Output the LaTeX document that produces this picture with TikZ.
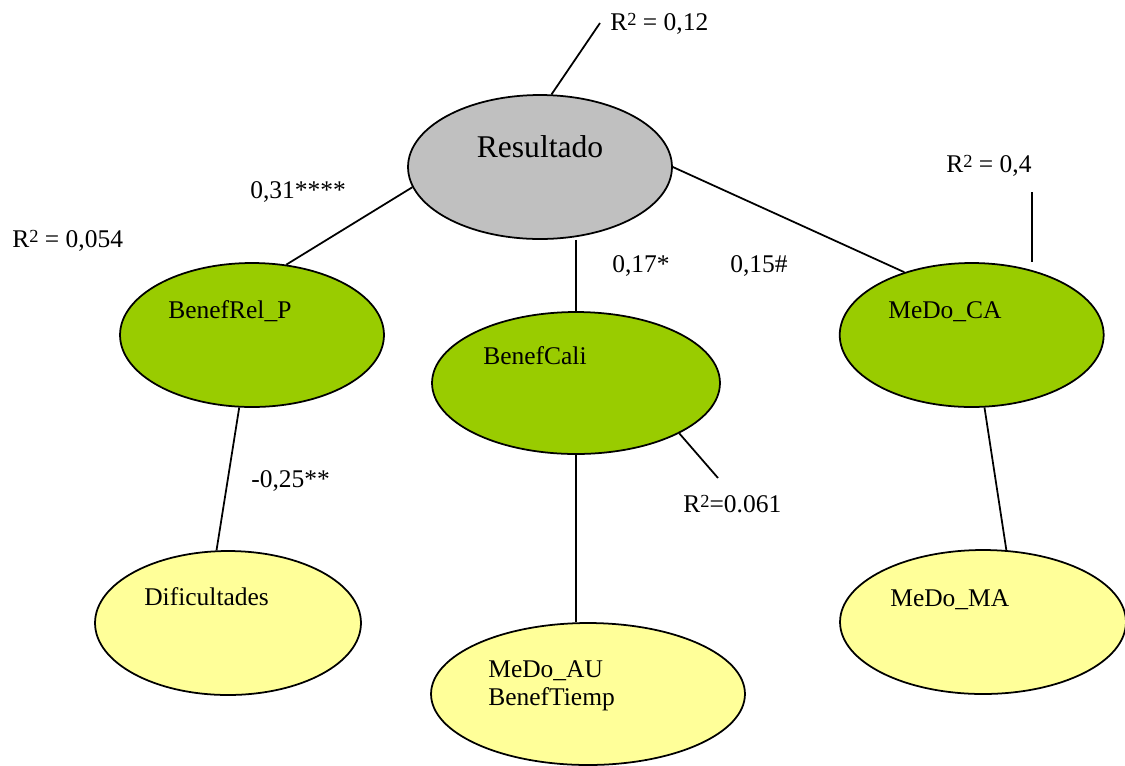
\documentclass[tikz,border=0pt]{standalone}
\usepackage{fontspec}
\setmainfont{Liberation Serif}
\usetikzlibrary{shapes.geometric}
\definecolor{verde}{HTML}{99CC00}
\definecolor{amarillo}{HTML}{FFFF99}
\definecolor{gris}{HTML}{C0C0C0}
\newcommand{\cuad}{\raisebox{0.42ex}{\fontsize{10.5}{10.5}\selectfont 2}}
\tikzset{
  elip/.style={ellipse, draw, line width=1pt, inner sep=0pt},
  txt/.style={inner sep=0pt, anchor=base west, font=\fontsize{14.5}{16.5}\selectfont},
  lin/.style={line width=1pt}
}
\begin{document}
\begin{tikzpicture}[x=0.02cm, y=-0.02cm]
    \useasboundingbox (0,0) rectangle (1125,765);

    % 1. 椭圆
    \node[elip, fill=gris, minimum width=5.28cm, minimum height=2.88cm] (res) at (540,167) {};
    \node[elip, fill=verde, minimum width=5.28cm, minimum height=2.88cm] (bp) at (252,335) {};
    \node[elip, fill=verde, minimum width=5.76cm, minimum height=2.84cm] (bc) at (576,383) {};
    \node[elip, fill=verde, minimum width=5.28cm, minimum height=2.88cm] (ca) at (971.7,335) {};
    \node[elip, fill=amarillo, minimum width=5.32cm, minimum height=2.88cm] (dif) at (228,623) {};
    \node[elip, fill=amarillo, minimum width=6.28cm, minimum height=2.84cm] (au) at (588,694) {};
    \node[elip, fill=amarillo, minimum width=5.72cm, minimum height=2.88cm] (ma) at (983,622) {};

    % 2. 椭圆里的文字
    \node[inner sep=0pt, anchor=base, font=\fontsize{18}{20}\selectfont] (tres) at (540,157) {Resultado};
    \node[txt] (tbp) at (168,318) {BenefRel\_P};
    \node[txt] (tbc) at (483,364) {BenefCali};
    \node[txt] (tca) at (888,318) {MeDo\_CA};
    \node[txt] (tdif) at (144,605) {Dificultades};
    \node[txt] (tau1) at (488,677) {MeDo\_AU};
    \node[txt] (tau2) at (488,705) {BenefTiemp};
    \node[txt] (tma) at (890,606) {MeDo\_MA};

    % 3. 系数与 R^2
    \node[txt] (r1) at (610,30) {R\cuad{} = 0,12};
    \node[txt] (r2) at (12,247) {R\cuad{} = 0,054};
    \node[txt] (r3) at (683,512) {R\cuad{}=0.061};
    \node[txt] (r4) at (946,172) {R\cuad{} = 0,4};
    \node[txt] (c1) at (250,198) {0,31****};
    \node[txt] (c2) at (612,272) {0,17*};
    \node[txt] (c3) at (730,272) {0,15\#};
    \node[txt] (c4) at (251,487) {-0,25**};

    % 4. 连线
    \coordinate (p1) at (600,23);
    \coordinate (p2) at (718,478);
    \coordinate (p3) at (1032,192);
    \draw[lin] (res.81) -- (p1);
    \draw[lin] (res.189) -- (bp.64);
    \draw[lin] (bc.north |- res.south) -- (bc.north);
    \draw[lin] (res.east) -- (ca.137);
    \draw[lin] (p3) -- (p3 |- ca.north);
    \draw[lin] (bp.260) -- (dif.99);
    \draw[lin] (bc.334) -- (p2);
    \draw[lin] (bc.south) -- (bc.south |- au.north);
    \draw[lin] (ca.280) -- (ma.72);

\end{tikzpicture}
\end{document}
